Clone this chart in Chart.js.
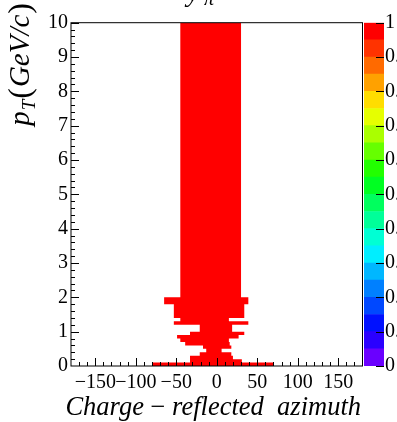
<!DOCTYPE html>
<html>
<head>
<meta charset="utf-8">
<script src="https://cdn.jsdelivr.net/npm/chart.js@4.4.1/dist/chart.umd.min.js"></script>
<style>
  html, body { margin: 0; padding: 0; background: #fff; overflow: hidden; }
  #wrap { position: relative; width: 397px; height: 422px; overflow: hidden; }
  #main { position: absolute; left: 0; top: 0; }
  #pal { position: absolute; left: 364px; top: 0; }
</style>
</head>
<body>
<div id="wrap">
  <canvas id="main" width="397" height="422"></canvas>
  <canvas id="pal" width="60" height="422"></canvas>
</div>
<script>
// pT band edges (GeV/c), bottom to top
const ptEdges = [0, 0.1, 0.2, 0.3, 0.4, 0.5, 0.6, 0.7, 0.8, 0.9, 1.0, 1.2, 1.3, 1.4, 1.8, 2.0, 10];
// filled azimuth range in each pT band (all cells have content 1)
const phiLow  = [-80, -33, -33, -21, -13, -17, -39, -45, -49, -33, -21, -53, -45, -53, -65, -45];
const phiHigh = [ 70,  31,  20,  18,   6,  18,  16,  15,  27,  34,  19,  39,  15,  34,  39,  30];
const cellValue = 1;

const xTickValues = [-150, -100, -50, 0, 50, 100, 150];
const xTickLabels = ['\u2212150', '\u2212100', '\u221250', '0', '50', '100', '150'];
const yTickValues = [0, 1, 2, 3, 4, 5, 6, 7, 8, 9, 10];
const yTickLabels = ['0', '1', '2', '3', '4', '5', '6', '7', '8', '9', '10'];

// colour palette: 20 contour levels between 0 and 1
const zLevels = [0, 0.05, 0.1, 0.15, 0.2, 0.25, 0.3, 0.35, 0.4, 0.45, 0.5,
                 0.55, 0.6, 0.65, 0.7, 0.75, 0.8, 0.85, 0.9, 0.95, 1];
const zTickValues = [0, 0.1, 0.2, 0.3, 0.4, 0.5, 0.6, 0.7, 0.8, 0.9, 1];
const zTickLabels = ['0', '0.1', '0.2', '0.3', '0.4', '0.5', '0.6', '0.7', '0.8', '0.9', '1'];
const paletteHues = [265, 250, 236, 223, 210, 197, 184, 170, 156, 142,
                     128, 112, 96, 80, 66, 52, 38, 25, 12, 0];
const paletteColors = paletteHues.map(h => `hsl(${h},100%,50%)`);

const serif = '"Liberation Serif", "Times New Roman", serif';

// outline of the filled cells, walked up the left side and down the right side
const outline = [];
for (let i = 0; i < phiLow.length; i++) {
    outline.push({ x: phiLow[i], y: ptEdges[i] }, { x: phiLow[i], y: ptEdges[i + 1] });
}
for (let i = phiHigh.length - 1; i >= 0; i--) {
    outline.push({ x: phiHigh[i], y: ptEdges[i + 1] }, { x: phiHigh[i], y: ptEdges[i] });
}

const colorFor = v => paletteColors[Math.min(paletteColors.length - 1,
    zLevels.findIndex((z, i) => v >= z && v < (zLevels[i + 1] ?? Infinity)))];

// frame, inside ticks and ROOT-like titles
const framePlugin = {
    id: 'framePlugin',
    afterDraw: (chart) => {
        const { ctx, chartArea: { left, top, right, bottom }, scales: { x, y } } = chart;
        ctx.save();
        ctx.strokeStyle = '#000';
        ctx.lineWidth = 1;
        ctx.strokeRect(left, top, right - left, bottom - top);

        ctx.beginPath();
        for (let v = -170; v <= 170; v += 10) {
            const px = Math.round(x.getPixelForValue(v)) + 0.5;
            const len = v % 50 === 0 ? 8 : 4;
            ctx.moveTo(px, bottom);
            ctx.lineTo(px, bottom - len);
        }
        for (let v = 0.2; v < 10; v += 0.2) {
            const py = Math.round(y.getPixelForValue(v)) + 0.5;
            const len = Math.abs(v - Math.round(v)) < 1e-6 ? 8 : 4;
            ctx.moveTo(left, py);
            ctx.lineTo(left + len, py);
        }
        ctx.stroke();

        ctx.fillStyle = '#000';
        ctx.textBaseline = 'alphabetic';

        // x title
        const big = 26.5;
        const parts = [
            { t: 'Charge', f: `italic ${big}px ${serif}` },
            { t: ' \u2212 ', f: `${big}px ${serif}` },
            { t: 'reflected  azimuth', f: `italic ${big}px ${serif}` }
        ];
        let total = 0;
        parts.forEach(p => { ctx.font = p.f; p.w = ctx.measureText(p.t).width; total += p.w; });
        let cx = 361 - total;
        parts.forEach(p => { ctx.font = p.f; ctx.textAlign = 'left'; ctx.fillText(p.t, cx, 415); cx += p.w; });

        // y title, rotated, ending near the top edge
        ctx.save();
        ctx.translate(29, 3);
        ctx.rotate(-Math.PI / 2);
        const yParts = [
            { t: 'p', f: `italic 29px ${serif}`, dy: 0, gap: 1 },
            { t: 'T', f: `italic 19px ${serif}`, dy: 6, gap: 1 },
            { t: '(', f: `32px ${serif}`, dy: 1, gap: 1 },
            { t: 'GeV/c', f: `italic 29px ${serif}`, dy: 0, gap: 1 },
            { t: ')', f: `32px ${serif}`, dy: 1, gap: 0 }
        ];
        let yt = 0;
        yParts.forEach(p => { ctx.font = p.f; p.w = ctx.measureText(p.t).width + p.gap; yt += p.w; });
        let lx = -yt;
        yParts.forEach(p => { ctx.font = p.f; ctx.textAlign = 'left'; ctx.fillText(p.t, lx, p.dy); lx += p.w; });
        ctx.restore();

        // histogram title, mostly cut off by the top edge
        ctx.font = `italic 28px ${serif}`;
        ctx.textAlign = 'left';
        ctx.fillText('y', 187, 1);
        ctx.font = `italic 20px ${serif}`;
        ctx.fillText('\u03c0', 204, 5);
        ctx.restore();
    }
};

new Chart(document.getElementById('main').getContext('2d'), {
    type: 'scatter',
    data: {
        datasets: [{
            data: outline,
            showLine: true,
            fill: 'shape',
            backgroundColor: colorFor(cellValue),
            borderColor: 'rgba(0,0,0,0)',
            borderWidth: 0,
            pointRadius: 0,
            tension: 0
        }]
    },
    options: {
        responsive: false,
        animation: false,
        layout: { padding: { top: 22.7, right: 34.5, left: 0, bottom: 0 } },
        plugins: {
            legend: { display: false },
            tooltip: { enabled: false }
        },
        scales: {
            x: {
                type: 'linear',
                min: -180,
                max: 180,
                grid: { display: false, drawTicks: false },
                border: { display: false },
                afterBuildTicks: s => { s.ticks = xTickValues.map(v => ({ value: v })); },
                afterFit: s => { s.height = 56; },
                ticks: {
                    callback: (v, i) => xTickLabels[i],
                    autoSkip: false,
                    maxRotation: 0,
                    padding: 5,
                    color: '#000',
                    font: { family: serif, size: 20 }
                }
            },
            y: {
                type: 'linear',
                min: 0,
                max: 10,
                grid: { display: false, drawTicks: false },
                border: { display: false },
                afterBuildTicks: s => { s.ticks = yTickValues.map(v => ({ value: v })); },
                afterFit: s => { s.width = 71; },
                ticks: {
                    callback: (v, i) => yTickLabels[i],
                    autoSkip: false,
                    padding: 3,
                    color: '#000',
                    font: { family: serif, size: 20 }
                }
            }
        }
    },
    plugins: [framePlugin]
});

const paletteTicks = {
    id: 'paletteTicks',
    afterDraw: (chart) => {
        const { ctx, chartArea: { right }, scales: { y } } = chart;
        ctx.save();
        ctx.strokeStyle = '#000';
        ctx.lineWidth = 1;
        ctx.beginPath();
        zTickValues.forEach(v => {
            const py = Math.round(y.getPixelForValue(v)) + 0.5;
            ctx.moveTo(right, py);
            ctx.lineTo(right - 8, py);
        });
        ctx.stroke();
        ctx.restore();
    }
};

new Chart(document.getElementById('pal').getContext('2d'), {
    type: 'bar',
    data: {
        labels: [''],
        datasets: paletteColors.map((c, i) => ({
            data: [zLevels[i + 1] - zLevels[i]],
            backgroundColor: c,
            borderWidth: 0,
            categoryPercentage: 1,
            barPercentage: 1
        }))
    },
    options: {
        responsive: false,
        animation: false,
        layout: { padding: { top: 22.7, bottom: 56, left: 0, right: 0 } },
        plugins: {
            legend: { display: false },
            tooltip: { enabled: false }
        },
        scales: {
            x: { display: false, stacked: true },
            y: {
                stacked: true,
                position: 'right',
                min: 0,
                max: 1,
                grid: { display: false, drawTicks: false },
                border: { display: false },
                afterBuildTicks: s => { s.ticks = zTickValues.map(v => ({ value: v })); },
                afterFit: s => { s.width = 40; },
                ticks: {
                    callback: (v, i) => zTickLabels[i],
                    autoSkip: false,
                    padding: 1,
                    color: '#000',
                    font: { family: serif, size: 20 }
                }
            }
        }
    },
    plugins: [paletteTicks]
});
</script>
</body>
</html>
